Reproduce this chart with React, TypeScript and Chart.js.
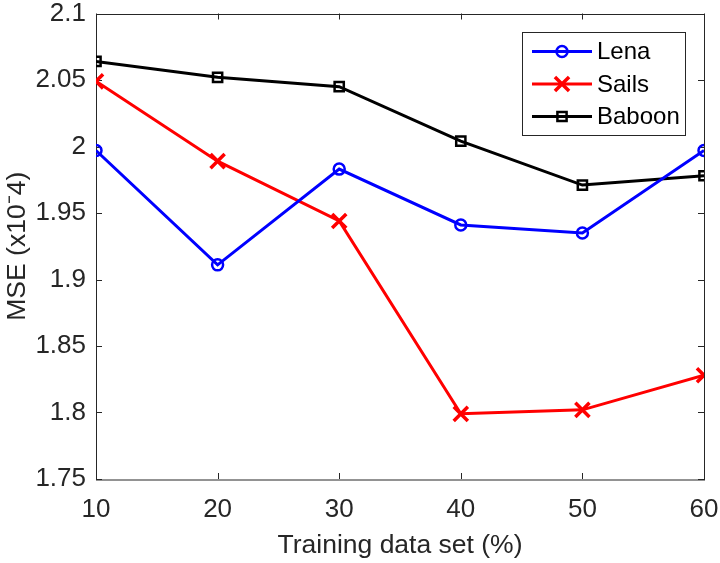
import React, { useEffect, useRef } from "react";
import { Chart, registerables } from "chart.js";

Chart.register(...registerables);

const trainingPct = [10, 20, 30, 40, 50, 60];
const lenaMse = [1.997, 1.911, 1.983, 1.941, 1.935, 1.997];
const sailsMse = [2.049, 1.989, 1.944, 1.799, 1.802, 1.828];
const baboonMse = [2.064, 2.052, 2.045, 2.004, 1.971, 1.978];
const seriesNames = ["Lena", "Sails", "Baboon"];
const xTitle = "Training data set (%)";
const yTitle = "MSE (x10\u207B4)";

const AXIS = "#262626";
const FONT = "'Liberation Sans', Arial, Helvetica, sans-serif";

function drawMarker(ctx: CanvasRenderingContext2D, style: string, x: number, y: number, r: number) {
  ctx.beginPath();
  if (style === "circle") {
    ctx.arc(x, y, r, 0, Math.PI * 2);
  } else if (style === "crossRot") {
    const o = r * Math.SQRT1_2;
    ctx.moveTo(x - o, y - o);
    ctx.lineTo(x + o, y + o);
    ctx.moveTo(x + o, y - o);
    ctx.lineTo(x - o, y + o);
  } else {
    const s = r * Math.SQRT1_2;
    ctx.rect(x - s, y - s, 2 * s, 2 * s);
  }
  ctx.stroke();
}

const framePlugin = {
  id: "frame",
  beforeDatasetsDraw(chart: any) {
    const { ctx, chartArea } = chart;
    const { left, right, top, bottom } = chartArea;
    const xs = chart.scales.x;
    const ys = chart.scales.y;
    ctx.save();
    ctx.strokeStyle = AXIS;
    ctx.lineWidth = 1;
    ctx.strokeRect(Math.round(left) + 0.5, Math.round(top) + 0.5, right - left, bottom - top);
    const tl = 6;
    ctx.beginPath();
    xs.ticks.forEach((t: any) => {
      const px = Math.round(xs.getPixelForValue(t.value)) + 0.5;
      ctx.moveTo(px, bottom);
      ctx.lineTo(px, bottom - tl);
      ctx.moveTo(px, top);
      ctx.lineTo(px, top + tl);
    });
    ys.ticks.forEach((t: any) => {
      const py = Math.round(ys.getPixelForValue(t.value)) + 0.5;
      ctx.moveTo(left, py);
      ctx.lineTo(left + tl, py);
      ctx.moveTo(right, py);
      ctx.lineTo(right - tl, py);
    });
    ctx.stroke();
    ctx.restore();
  },
};

const legendPlugin = {
  id: "matlabLegend",
  afterDraw(chart: any) {
    const { ctx, chartArea } = chart;
    const w = 163;
    const h = 103;
    const bx = chartArea.right - 19 - w;
    const by = chartArea.top + 18;
    ctx.save();
    ctx.fillStyle = "#ffffff";
    ctx.fillRect(bx, by, w, h);
    ctx.strokeStyle = AXIS;
    ctx.lineWidth = 1;
    ctx.strokeRect(Math.round(bx) + 0.5, Math.round(by) + 0.5, w, h);
    chart.data.datasets.forEach((ds: any, i: number) => {
      const cy = by + 20 + i * 32.5;
      ctx.strokeStyle = ds.borderColor;
      ctx.lineWidth = ds.borderWidth;
      ctx.beginPath();
      ctx.moveTo(bx + 10, cy);
      ctx.lineTo(bx + 70, cy);
      ctx.stroke();
      ctx.lineWidth = ds.pointBorderWidth;
      drawMarker(ctx, ds.pointStyle, bx + 40, cy, ds.pointRadius);
      ctx.fillStyle = "#000000";
      ctx.font = `24px ${FONT}`;
      ctx.textBaseline = "middle";
      ctx.textAlign = "left";
      ctx.fillText(ds.label, bx + 75, cy + 1);
    });
    ctx.restore();
  },
};

export default function App() {
  const ref = useRef<HTMLCanvasElement>(null);
  useEffect(() => {
    if (!ref.current) return;
    const mk = (vals: number[]) => trainingPct.map((x, i) => ({ x, y: vals[i] }));
    const chart = new Chart(ref.current, {
      type: "line",
      data: {
        datasets: [
          {
            label: seriesNames[0],
            data: mk(lenaMse),
            borderColor: "#0000ff",
            borderWidth: 3,
            pointStyle: "circle",
            pointRadius: 5.5,
            pointBorderWidth: 2.5,
            pointBorderColor: "#0000ff",
            pointBackgroundColor: "transparent",
          },
          {
            label: seriesNames[1],
            data: mk(sailsMse),
            borderColor: "#ff0000",
            borderWidth: 3,
            pointStyle: "crossRot",
            pointRadius: 10,
            pointBorderWidth: 3.5,
            pointBorderColor: "#ff0000",
            pointBackgroundColor: "transparent",
          },
          {
            label: seriesNames[2],
            data: mk(baboonMse),
            borderColor: "#000000",
            borderWidth: 3,
            pointStyle: "rect",
            pointRadius: 6.5,
            pointBorderWidth: 2.5,
            pointBorderColor: "#000000",
            pointBackgroundColor: "transparent",
          },
        ] as any,
      },
      options: {
        animation: false,
        responsive: false,
        devicePixelRatio: 1,
        layout: { padding: { top: 11, right: 16, left: 0, bottom: 0 } },
        plugins: { legend: { display: false }, tooltip: { enabled: false } },
        elements: { line: { tension: 0 } },
        scales: {
          x: {
            type: "linear",
            min: 10,
            max: 60,
            ticks: { stepSize: 10, color: AXIS, font: { size: 26, family: FONT }, padding: 15, maxRotation: 0 },
            grid: { display: false, drawTicks: false },
            border: { display: false },
            title: { display: true, text: xTitle, color: AXIS, font: { size: 26.5, family: FONT }, padding: { top: 0, bottom: 1 } },
            afterFit: (s: any) => {
              s.height = 84;
              s.paddingLeft = 0;
              s.paddingRight = 0;
            },
          },
          y: {
            type: "linear",
            min: 1.75,
            max: 2.1,
            ticks: {
              stepSize: 0.05,
              color: AXIS,
              font: { size: 26, family: FONT },
              padding: 10,
              callback: (v: any) => String(Math.round(Number(v) * 100) / 100),
            },
            grid: { display: false, drawTicks: false },
            border: { display: false },
            title: { display: true, text: yTitle, color: AXIS, font: { size: 26.5, family: FONT }, padding: { top: 2, bottom: 0 } },
            afterFit: (s: any) => {
              s.width = 96;
              s.paddingTop = 0;
              s.paddingBottom = 0;
            },
          },
        },
      } as any,
      plugins: [framePlugin, legendPlugin],
    });
    return () => chart.destroy();
  }, []);
  return (
    <div style={{ position: "absolute", left: 0, top: 0, width: 720, height: 563, background: "#fff" }}>
      <canvas ref={ref} width={720} height={563} style={{ display: "block" }} />
    </div>
  );
}
